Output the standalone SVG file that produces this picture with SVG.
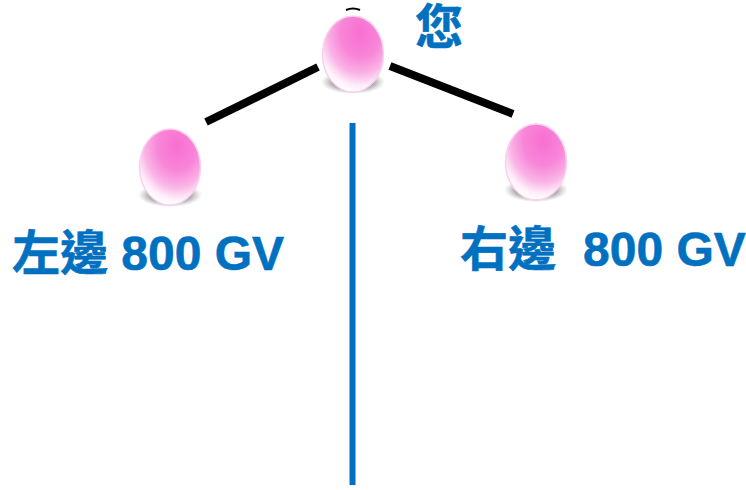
<svg xmlns="http://www.w3.org/2000/svg" width="746" height="490" viewBox="0 0 746 490">
<style>
.t{font-family:"Liberation Sans","Noto Sans CJK TC",sans-serif;font-weight:700;font-size:48px;fill:#0070c0;stroke:#0070c0;stroke-width:.6px}
.k{stroke:#000;stroke-width:8;fill:none}
.b{stroke:#0070c0;stroke-width:6;fill:none}
</style>
<defs>
<radialGradient id="g" cx=".62" cy=".22" r=".8">
<stop offset="0" stop-color="#f86fd0"/><stop offset=".4" stop-color="#f885d8"/><stop offset=".68" stop-color="#fab4e6"/><stop offset=".88" stop-color="#fff0fa"/><stop offset="1" stop-color="#fff"/>
</radialGradient>
<radialGradient id="s"><stop offset=".6" stop-color="#999"/><stop offset="1" stop-color="#bbb" stop-opacity="0"/></radialGradient>
<g id="egg">
<ellipse cx="0" cy="28" rx="32" ry="12" fill="url(#s)"/>
<ellipse cx="0" cy="0" rx="30.500" ry="38" fill="url(#g)" stroke="#fbd0ee" stroke-width="1.500"/>
</g>
</defs>
<g id="connectors">
<path class="k" d="M206 122L318 67"/>
<path class="k" d="M390 66L513 114"/>
<path class="b" d="M352.500 123V485"/>
<path d="M346 10Q353 7 360 10" stroke="#000" stroke-width="2" fill="none"/>
</g>
<g id="node-you"><use href="#egg" x="353" y="54"/><text class="t" x="415" y="44">您</text></g>
<g id="node-left"><use href="#egg" x="170" y="167"/><text class="t" x="12" y="270">左邊 800 GV</text></g>
<g id="node-right"><use href="#egg" x="536" y="162"/><text class="t" x="460" y="266">右邊<tspan x="583">800 GV</tspan></text></g>
</svg>
